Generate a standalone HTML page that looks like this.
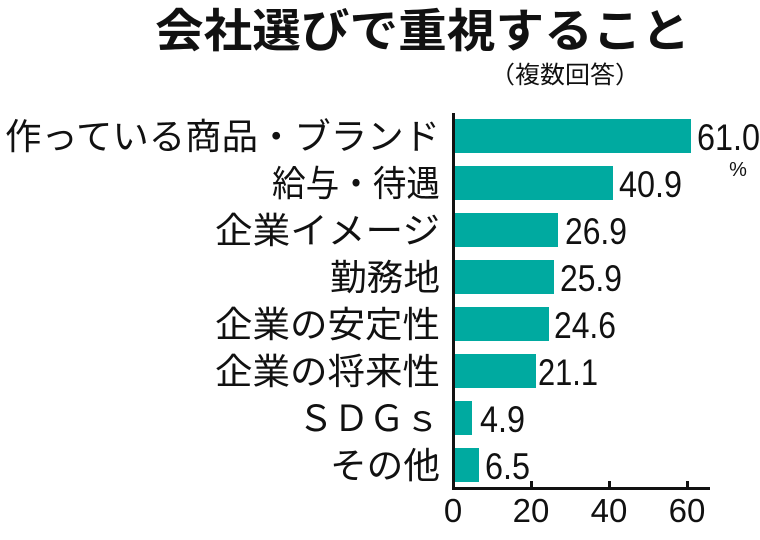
<!DOCTYPE html>
<html><head><meta charset="utf-8"><style>
body{margin:0;background:#fff;}
svg text{font-family:"Liberation Sans","Noto Sans CJK JP",sans-serif;fill:#111;}
</style></head><body>
<svg width="760" height="535" viewBox="0 0 760 535">
<text x="155" y="47" font-size="46" font-weight="bold" textLength="535" lengthAdjust="spacingAndGlyphs" style="font-family:'Noto Sans CJK JP',sans-serif">会社選びで重視すること</text>
<text x="490" y="83" font-size="24" textLength="150" lengthAdjust="spacingAndGlyphs" style="font-family:'Noto Sans CJK JP',sans-serif">（複数回答）</text>
<g fill="#00aaa0">
<rect x="454" y="119" width="237" height="34"/>
<rect x="454" y="166" width="159" height="34"/>
<rect x="454" y="213" width="104" height="34"/>
<rect x="454" y="260" width="100" height="34"/>
<rect x="454" y="307" width="95" height="34"/>
<rect x="454" y="354" width="82" height="34"/>
<rect x="454" y="401" width="18" height="34"/>
<rect x="454" y="448" width="25" height="34"/>
</g>
<g font-size="36" lengthAdjust="spacingAndGlyphs" style="font-family:'Noto Sans CJK JP',sans-serif">
<text x="5" y="149" textLength="435" lengthAdjust="spacingAndGlyphs">作っている商品・ブランド</text>
<text x="272" y="196" textLength="168" lengthAdjust="spacingAndGlyphs">給与・待遇</text>
<text x="215" y="243" textLength="225" lengthAdjust="spacingAndGlyphs">企業イメージ</text>
<text x="330" y="290" textLength="110" lengthAdjust="spacingAndGlyphs">勤務地</text>
<text x="215" y="337" textLength="225" lengthAdjust="spacingAndGlyphs">企業の安定性</text>
<text x="215" y="384" textLength="225" lengthAdjust="spacingAndGlyphs">企業の将来性</text>
<text x="298" y="431" textLength="142" lengthAdjust="spacingAndGlyphs">ＳＤＧｓ</text>
<text x="330" y="478" textLength="110" lengthAdjust="spacingAndGlyphs">その他</text>
</g>
<g font-size="37">
<text x="697" y="150" textLength="63" lengthAdjust="spacingAndGlyphs">61.0</text>
<text x="619" y="197" textLength="63" lengthAdjust="spacingAndGlyphs">40.9</text>
<text x="565" y="244" textLength="62" lengthAdjust="spacingAndGlyphs">26.9</text>
<text x="560" y="291" textLength="62" lengthAdjust="spacingAndGlyphs">25.9</text>
<text x="554" y="338" textLength="62" lengthAdjust="spacingAndGlyphs">24.6</text>
<text x="538" y="385" textLength="60" lengthAdjust="spacingAndGlyphs">21.1</text>
<text x="480" y="432" textLength="45" lengthAdjust="spacingAndGlyphs">4.9</text>
<text x="485" y="479" textLength="45" lengthAdjust="spacingAndGlyphs">6.5</text>
</g>
<text x="738" y="176" font-size="20" text-anchor="middle">%</text>
<rect x="452" y="113" width="3" height="377" fill="#111"/>
<rect x="452" y="487" width="258" height="3" fill="#111"/>
<g fill="#111">
<rect x="530" y="481" width="3" height="7"/>
<rect x="608" y="481" width="3" height="7"/>
<rect x="686" y="481" width="3" height="7"/>
</g>
<g font-size="33" text-anchor="middle">
<text x="453" y="522">0</text>
<text x="531" y="522">20</text>
<text x="609" y="522">40</text>
<text x="687" y="522">60</text>
</g>
</svg>
</body></html>
